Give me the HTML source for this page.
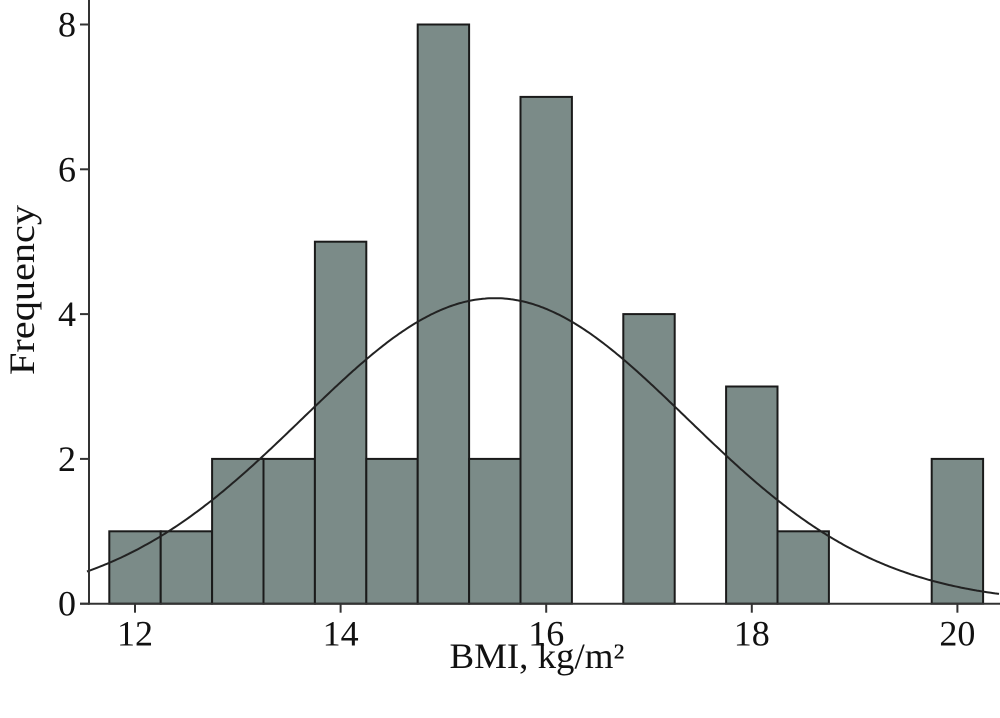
<!DOCTYPE html>
<html><head><meta charset="utf-8"><style>
html,body{margin:0;padding:0;background:#fff;}
svg{display:block;font-family:"Liberation Serif",serif;}
</style></head><body>
<svg id="chart" width="1000" height="718" viewBox="0 0 1000 718">
<g id="bars"></g>
<path id="curve" fill="none" stroke="#222" stroke-width="2"/>
<g id="axes"></g>
<text x="34" y="290" font-size="36" text-anchor="middle" textLength="170" lengthAdjust="spacingAndGlyphs" transform="rotate(-90 34 290)" fill="#111">Frequency</text>
<text x="537" y="668" font-size="36" text-anchor="middle" textLength="175" lengthAdjust="spacingAndGlyphs" fill="#111">BMI, kg/m²</text>
</svg>
<script>
const binStarts=[11.75,12.25,12.75,13.25,13.75,14.25,14.75,15.25,15.75,16.25,16.75,17.25,17.75,18.25,18.75,19.25,19.75];
const counts=[1,1,2,2,5,2,8,2,7,0,4,0,3,1,0,0,2];
const binWidth=0.5;
const xTicks=[12,14,16,18,20];
const yTicks=[0,2,4,6,8];
const curveMean=15.5, curveSD=1.87, curvePeak=4.22;
const NS='http://www.w3.org/2000/svg';
const X=v=>135+(v-12)*102.8;
const Y=v=>603.7-v*72.4;
const bars=document.getElementById('bars');
binStarts.forEach((b,i)=>{
  if(!counts[i])return;
  const r=document.createElementNS(NS,'rect');
  
  
  r.setAttribute('x',X(b));r.setAttribute('width',X(b+binWidth)-X(b));
  r.setAttribute('y',Y(counts[i]));r.setAttribute('height',Y(0)-Y(counts[i]));
  r.setAttribute('fill','#7b8b88');r.setAttribute('stroke','#1a1a1a');r.setAttribute('stroke-width','2');
  bars.appendChild(r);
});
let d='';
for(let px=87;px<=1000;px+=2){
  const v=12+(px-135)/102.8;
  const f=curvePeak*Math.exp(-Math.pow(v-curveMean,2)/(2*curveSD*curveSD));
  d+=(d?'L':'M')+px+' '+Y(f).toFixed(1);
}
document.getElementById('curve').setAttribute('d',d);
const ax=document.getElementById('axes');
function line(x1,y1,x2,y2,name){const l=document.createElementNS(NS,'line');


l.setAttribute('x1',x1);l.setAttribute('y1',y1);l.setAttribute('x2',x2);l.setAttribute('y2',y2);
l.setAttribute('stroke','#333');l.setAttribute('stroke-width','2');ax.appendChild(l);}
function text(x,y,s,anchor,name){const t=document.createElementNS(NS,'text');


t.setAttribute('x',x);t.setAttribute('y',y);t.setAttribute('font-size','36');t.setAttribute('text-anchor',anchor);t.setAttribute('fill','#111');t.textContent=s;ax.appendChild(t);}
line(89,0,89,Y(0)+1,'y-axis-line');
line(80,Y(0),1000,Y(0),'x-axis-line');
yTicks.forEach(v=>{line(80,Y(v),89,Y(v),'y-tick');text(76,Y(v)+12,String(v),'end','y-tick-label');});
xTicks.forEach(v=>{line(X(v),Y(0),X(v),Y(0)+9,'x-tick');text(X(v),Y(0)+42,String(v),'middle','x-tick-label');});
</script>
</body></html>
